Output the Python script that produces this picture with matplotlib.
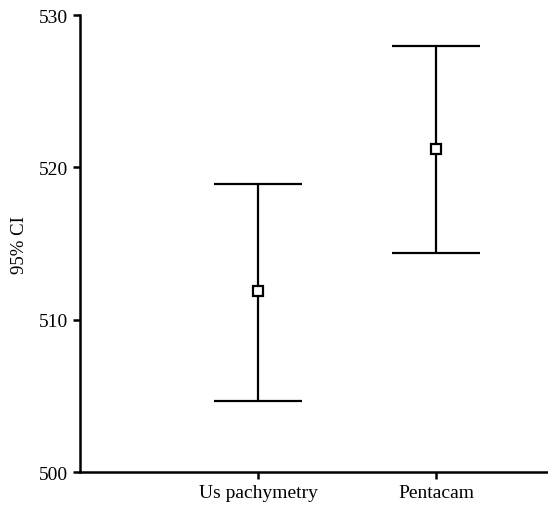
import matplotlib
matplotlib.use("Agg")
import matplotlib.pyplot as plt

groups = ["Us pachymetry", "Pentacam"]
means = [511.9, 521.2]
upper = [518.9, 528.0]
lower = [504.7, 514.4]

plt.rcParams["font.family"] = ["Liberation Serif", "DejaVu Serif"]

fig = plt.figure(figsize=(5.48, 5.06), dpi=100)
ax = fig.add_axes([0.146, 0.065, 0.854, 0.903])

x = [1, 2]
yerr = [[m - lo for m, lo in zip(means, lower)], [hi - m for m, hi in zip(means, upper)]]
ax.errorbar(x, means, yerr=yerr, fmt="s", color="black", mfc="white", mec="black",
            markersize=7, mew=1.6, ecolor="black", elinewidth=1.6, capsize=32, capthick=1.6)

ax.set_xlim(0, 2.63)
ax.set_ylim(500, 530)
ax.set_yticks([500, 510, 520, 530])
ax.set_xticks(x)
ax.set_xticklabels(groups)
ax.set_ylabel("95% CI", fontsize=13.5, labelpad=8)
for s in ["top", "right"]:
    ax.spines[s].set_visible(False)
for s in ["left", "bottom"]:
    ax.spines[s].set_linewidth(1.8)
ax.tick_params(width=1.8, length=5, labelsize=14, direction="out")

fig.savefig("out.png", dpi=100)
